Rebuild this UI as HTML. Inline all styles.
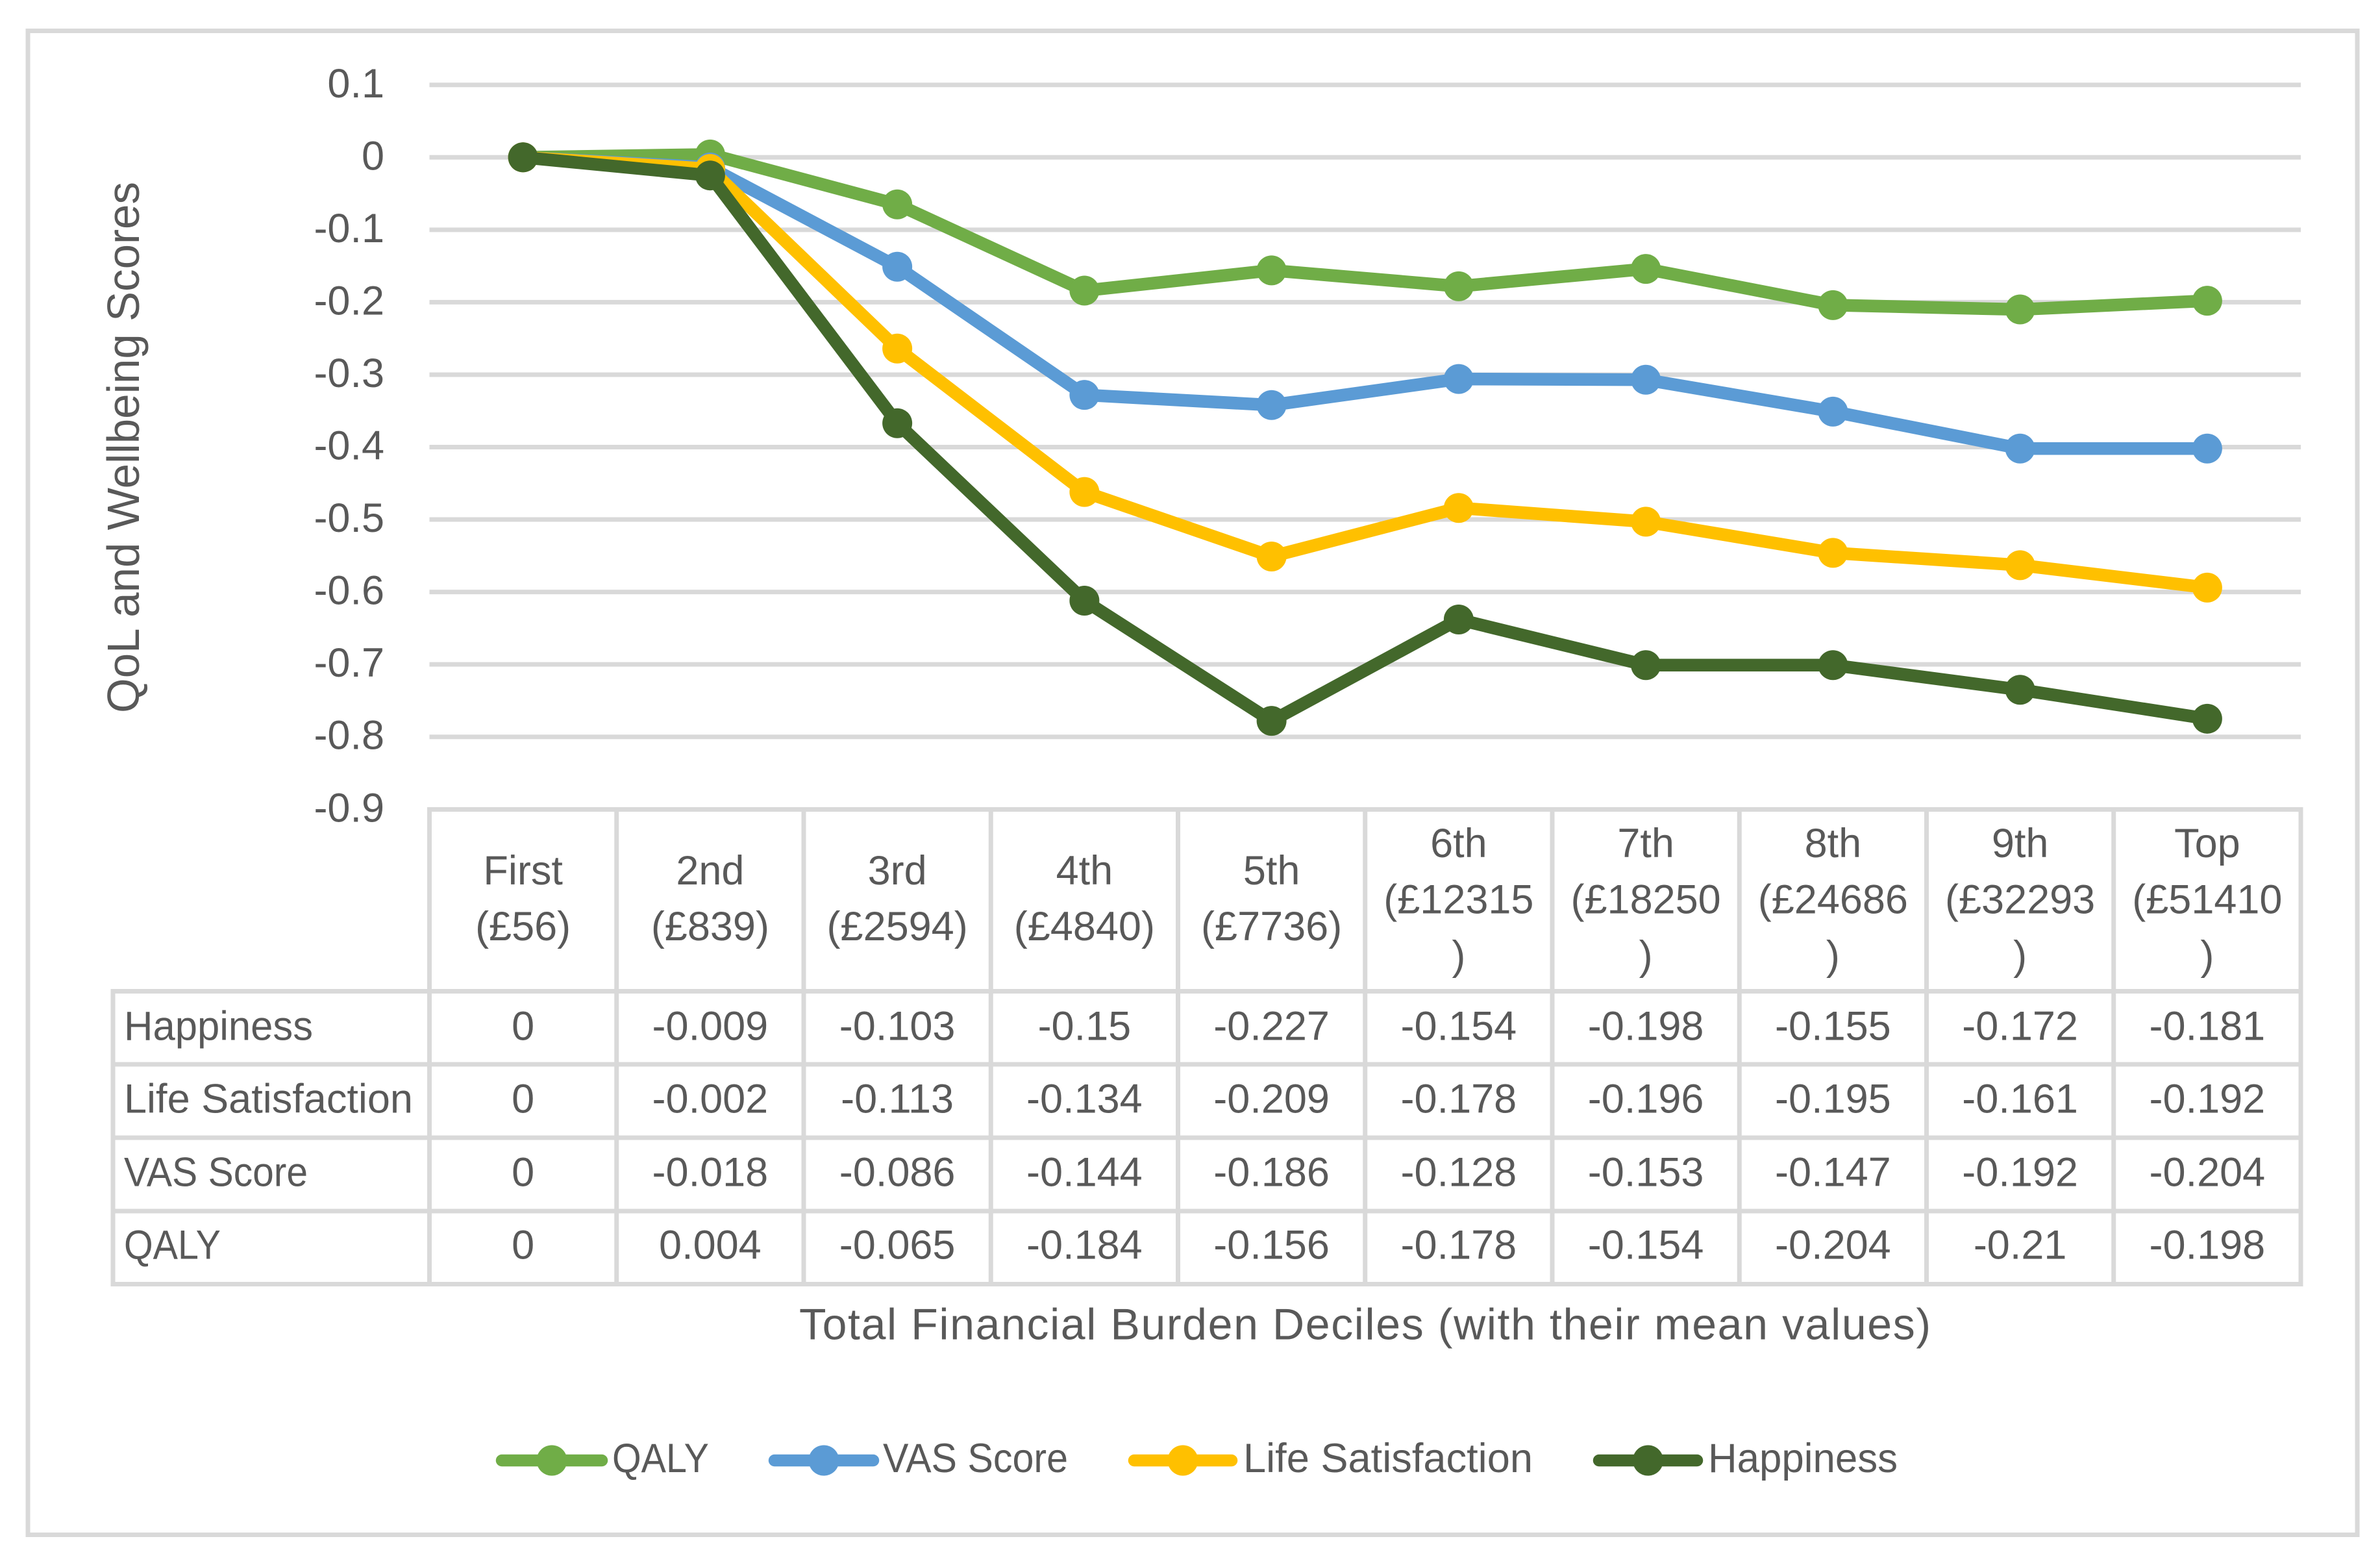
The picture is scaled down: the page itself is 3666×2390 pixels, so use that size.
<!DOCTYPE html>
<html lang="en">
<head>
<meta charset="utf-8">
<title>QoL and Wellbeing Scores by Total Financial Burden Deciles</title>
<style>
html,body{margin:0;padding:0;background:#fff;width:3666px;height:2390px;overflow:hidden}
svg{display:block}
text{font-family:"Liberation Sans",sans-serif;font-size:63px;fill:#595959}
</style>
</head>
<body>
<svg id="chart" xmlns="http://www.w3.org/2000/svg" width="3666" height="2390" viewBox="0 0 3666 2390">
  <rect x="43" y="47.5" width="3588" height="2316" fill="#fff" stroke="#D9D9D9" stroke-width="7"/>
  <g id="grid"></g>
  <g id="yticks"></g>
  <g id="tablegrid"></g>
  <g id="tabletext"></g>
  <g id="series"></g>
  <text transform="translate(214,1098) rotate(-90)" style="font-size:70px" textLength="818" lengthAdjust="spacingAndGlyphs">QoL and Wellbeing Scores</text>
  <text x="1231" y="2062.5" style="font-size:68px" textLength="1743" lengthAdjust="spacing">Total Financial Burden Deciles (with their mean values)</text>
  <g id="legend"></g>
</svg>
<script>
const yTicks = [0.1, 0, -0.1, -0.2, -0.3, -0.4, -0.5, -0.6, -0.7, -0.8, -0.9];
const categoryLines = [
  ["First", "(£56)"],
  ["2nd", "(£839)"],
  ["3rd", "(£2594)"],
  ["4th", "(£4840)"],
  ["5th", "(£7736)"],
  ["6th", "(£12315", ")"],
  ["7th", "(£18250", ")"],
  ["8th", "(£24686", ")"],
  ["9th", "(£32293", ")"],
  ["Top", "(£51410", ")"]
];
const qaly = [0, 0.004, -0.065, -0.184, -0.156, -0.178, -0.154, -0.204, -0.21, -0.198];
const vasScore = [0, -0.018, -0.086, -0.144, -0.186, -0.128, -0.153, -0.147, -0.192, -0.204];
const lifeSatisfaction = [0, -0.002, -0.113, -0.134, -0.209, -0.178, -0.196, -0.195, -0.161, -0.192];
const happiness = [0, -0.009, -0.103, -0.15, -0.227, -0.154, -0.198, -0.155, -0.172, -0.181];
const seriesNames = ["QALY", "VAS Score", "Life Satisfaction", "Happiness"];
const tableOrder = ["Happiness", "Life Satisfaction", "VAS Score", "QALY"];

const NS = "http://www.w3.org/2000/svg";
const plotLeft = 661.5, plotRight = 3544, colW = (plotRight - plotLeft) / categoryLines.length;
const y0 = 242.3, unitY = 1115.5;
const rowYs = [1526.5, 1639, 1752, 1865, 1977.5];
const rowBaselines = [1601.5, 1713.5, 1826.5, 1938.5];
const tableLeft = 174, tableTop = 1246.5;
const seriesValues = {"QALY": qaly, "VAS Score": vasScore, "Life Satisfaction": lifeSatisfaction, "Happiness": happiness};
const seriesColors = {"QALY": "#70AD47", "VAS Score": "#5B9BD5", "Life Satisfaction": "#FFC000", "Happiness": "#43682B"};

function xAt(i) { return plotLeft + colW * (i + 0.5); }
function yAt(v) { return y0 - v * unitY; }
function slug(s) { return s.toLowerCase().replace(/[^a-z0-9]+/g, "-"); }
function make(tag, parent) {
  const el = document.createElementNS(NS, tag);
  parent.appendChild(el);
  return el;
}
function line(parent, x1, y1, x2, y2, w) {
  const l = make("line", parent);
  l.setAttribute("x1", x1);
  l.setAttribute("y1", y1);
  l.setAttribute("x2", x2);
  l.setAttribute("y2", y2);
  l.setAttribute("stroke", "#D9D9D9");
  l.setAttribute("stroke-width", w);
  return l;
}
function label(parent, str, x, y, anchor, fit) {
  const t = make("text", parent);
  t.setAttribute("x", x);
  t.setAttribute("y", y);
  if (anchor) t.setAttribute("text-anchor", anchor);
  if (fit) {
    t.setAttribute("textLength", fit);
    t.setAttribute("lengthAdjust", "spacingAndGlyphs");
  }
  t.textContent = str;
  return t;
}

const gridG = document.getElementById("grid");
const tickG = document.getElementById("yticks");
yTicks.forEach(function (v) {
  if (v > -0.85) {
    const g = line(gridG, plotLeft, yAt(v), plotRight, yAt(v), 7);
    
    
  }
  const t = label(tickG, String(v), 592, yAt(v) + 19, "end");
  
  
});

const tg = document.getElementById("tablegrid");
const topLine = line(tg, plotLeft - 3.5, tableTop, plotRight + 3.5, tableTop, 7);


rowYs.forEach(function (y) {
  const r = line(tg, tableLeft - 3.5, y, plotRight + 3.5, y, 7);
  
  
});
const leftLine = line(tg, tableLeft, rowYs[0], tableLeft, rowYs[4], 7);


for (let i = 0; i <= categoryLines.length; i++) {
  const c = line(tg, plotLeft + colW * i, tableTop, plotLeft + colW * i, rowYs[4], 7);
  
  
}

const tt = document.getElementById("tabletext");
categoryLines.forEach(function (parts, i) {
  const bases = parts.length === 3 ? [1320, 1406.5, 1493] : [1362, 1448];
  parts.forEach(function (p, j) {
    const t = label(tt, p, xAt(i), bases[j], "middle");
    
    
  });
});
const rowFits = {"Happiness": 291, "Life Satisfaction": 445, "VAS Score": 283, "QALY": 149};
tableOrder.forEach(function (name, r) {
  const head = label(tt, name, 191, rowBaselines[r], null, rowFits[name]);
  
  
  seriesValues[name].forEach(function (v, i) {
    const t = label(tt, String(v), xAt(i), rowBaselines[r], "middle");
    
    
  });
});

/* The plotted lines are stacked: each series adds to the running total of those before it. */
const sg = document.getElementById("series");
const running = categoryLines.map(function () { return 0; });
seriesNames.forEach(function (name) {
  const vals = seriesValues[name];
  const color = seriesColors[name];
  const g = make("g", sg);
  
  
  const pts = vals.map(function (v, i) {
    running[i] += v;
    return [xAt(i), yAt(running[i])];
  });
  const pl = make("polyline", g);
  pl.setAttribute("points", pts.map(function (p) { return p[0] + "," + p[1]; }).join(" "));
  pl.setAttribute("fill", "none");
  pl.setAttribute("stroke", color);
  pl.setAttribute("stroke-width", 19.5);
  pl.setAttribute("stroke-linejoin", "round");
  pl.setAttribute("stroke-linecap", "round");
  
  
  pts.forEach(function (p) {
    const c = make("circle", g);
    c.setAttribute("cx", p[0]);
    c.setAttribute("cy", p[1]);
    c.setAttribute("r", 23);
    c.setAttribute("fill", color);
    
    
  });
});

const lg = document.getElementById("legend");
const legendLayout = {
  "QALY": {a: 764, b: 936, tx: 943, w: 149},
  "VAS Score": {a: 1184, b: 1354, tx: 1360, w: 285},
  "Life Satisfaction": {a: 1738, b: 1906, tx: 1915, w: 446},
  "Happiness": {a: 2454, b: 2623, tx: 2631, w: 292}
};
seriesNames.forEach(function (name) {
  const m = legendLayout[name];
  const g = make("g", lg);
  
  
  const l = make("line", g);
  l.setAttribute("x1", m.a + 9);
  l.setAttribute("x2", m.b - 9);
  l.setAttribute("y1", 2249);
  l.setAttribute("y2", 2249);
  l.setAttribute("stroke", seriesColors[name]);
  l.setAttribute("stroke-width", 18.5);
  l.setAttribute("stroke-linecap", "round");
  
  
  const c = make("circle", g);
  c.setAttribute("cx", (m.a + m.b) / 2);
  c.setAttribute("cy", 2249);
  c.setAttribute("r", 23.5);
  c.setAttribute("fill", seriesColors[name]);
  
  
  const t = label(g, name, m.tx, 2267, null, m.w);
  
  
});
</script>
</body>
</html>
